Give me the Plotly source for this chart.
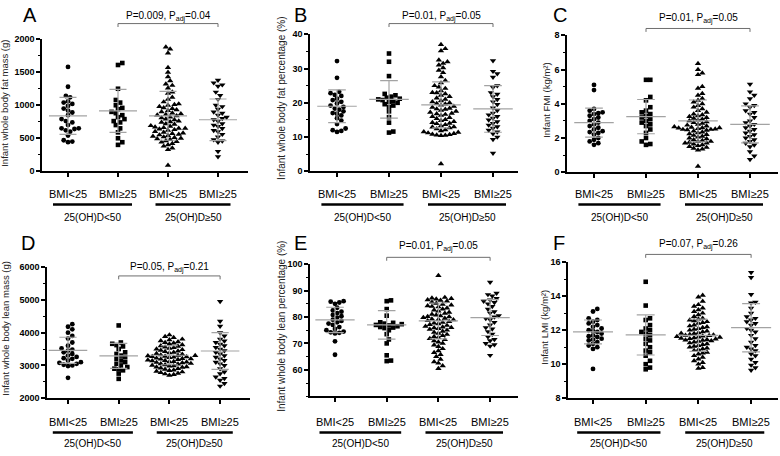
import plotly.graph_objects as go

W, H = 780, 456

CATS = ["BMI<25", "BMI≥25", "BMI<25", "BMI≥25"]
GROUPS = ["25(OH)D<50", "25(OH)D≥50"]
SYMBOLS = ["circle", "square", "triangle-up", "triangle-down"]
SIZES = [4.8, 4.6, 5.6, 5.6]

# Panel A: infant whole body fat mass (g)
A1 = [1580, 1280, 1140, 1120, 1060, 1040, 1020, 990, 950, 920, 890, 850, 790, 760, 740, 700, 650, 650, 640, 620, 600, 540, 470, 450, 440]
A2 = [1640, 1610, 1250, 1080, 1040, 1000, 960, 940, 900, 880, 850, 820, 790, 760, 740, 700, 650, 590, 500, 440, 400]
A3 = [1880, 1850, 1790, 1570, 1500, 1430, 1370, 1320, 1300, 1260, 1200, 1180, 1120, 1090, 1050, 1020, 1010, 1000, 980, 960,
      950, 930, 920, 900, 880, 870, 860, 850, 840, 820, 810, 790, 780, 760, 750, 740, 720, 710, 690, 680, 670, 660, 650, 650,
      640, 630, 620, 600, 590, 580, 570, 560, 550, 540, 530, 520, 510, 500, 490, 480, 460, 450, 440, 420, 400, 380, 350, 330, 90]
A4 = [1380, 1340, 1310, 1290, 1200, 1150, 1090, 1000, 980, 940, 900, 880, 850, 820, 800, 780, 760, 720, 700, 680, 650, 620,
      600, 560, 520, 480, 460, 440, 300, 220]
A_MEAN = [840, 915, 840, 780]
A_SD = [280, 325, 370, 315]

# Panel B: infant whole body fat percentage (%)
B1 = [32.2, 27.3, 23.2, 22.8, 22.3, 22.0, 21.2, 20.8, 20.3, 19.8, 19.2, 18.8, 18.3, 18.0, 17.5, 17.0, 16.8, 16.3, 15.5, 14.8, 13.8, 12.5, 12.0, 11.8, 11.5]
B2 = [34.4, 32.0, 27.8, 22.6, 22.2, 21.8, 21.5, 21.2, 21.0, 20.8, 20.5, 20.3, 20.0, 19.6, 19.2, 18.8, 17.5, 15.8, 14.2, 11.6, 11.3]
B3 = [37.0, 35.8, 35.2, 32.5, 32.0, 31.5, 31.0, 30.2, 29.5, 28.8, 27.6, 26.5, 25.8, 25.0, 24.2, 23.5, 23.0, 22.6, 22.2, 21.8,
      21.4, 21.0, 20.6, 20.3, 20.0, 19.6, 19.3, 19.0, 18.7, 18.4, 18.1, 17.8, 17.5, 17.2, 16.9, 16.6, 16.3, 16.0, 15.7, 15.4,
      15.1, 14.8, 14.5, 14.2, 13.9, 13.6, 13.3, 13.0, 12.7, 12.4, 12.1, 11.8, 11.5, 11.2, 11.0, 10.8, 10.6, 10.5, 10.4, 10.7,
      11.4, 12.9, 14.0, 16.8, 18.2, 19.8, 22.9, 24.6, 2.2]
B4 = [32.3, 29.2, 28.5, 27.5, 25.0, 24.5, 23.0, 22.5, 21.8, 21.0, 20.3, 19.5, 18.5, 17.8, 17.0, 16.5, 16.0, 15.5, 15.0, 14.5,
      14.0, 13.5, 13.0, 12.6, 12.0, 11.5, 11.0, 10.0, 9.3, 5.3]
B_MEAN = [19.0, 21.0, 19.4, 18.2]
B_SD = [4.8, 5.5, 6.7, 6.8]

# Panel C: infant FMI (kg/m2)
C1 = [5.1, 4.8, 3.7, 3.6, 3.5, 3.45, 3.4, 3.3, 3.2, 3.1, 3.0, 2.9, 2.8, 2.7, 2.6, 2.5, 2.4, 2.35, 2.3, 2.2, 2.0, 1.9, 1.8, 1.7, 1.6]
C2 = [5.4, 5.4, 4.4, 4.2, 3.8, 3.6, 3.5, 3.4, 3.3, 3.2, 3.1, 3.0, 2.9, 2.8, 2.7, 2.5, 2.3, 2.0, 1.8, 1.65, 1.6]
C3 = [6.35, 6.0, 5.8, 5.7, 5.0, 4.9, 4.6, 4.5, 4.3, 4.1, 3.9, 3.8, 3.7, 3.6, 3.5, 3.4, 3.35, 3.3, 3.2, 3.15,
      3.1, 3.0, 2.95, 2.9, 2.85, 2.8, 2.75, 2.7, 2.65, 2.6, 2.6, 2.55, 2.5, 2.5, 2.45, 2.4, 2.35, 2.3, 2.25, 2.2,
      2.15, 2.1, 2.05, 2.0, 1.95, 1.9, 1.85, 1.8, 1.8, 1.75, 1.7, 1.7, 1.65, 1.6, 1.55, 1.5, 1.45, 1.4, 1.35, 1.3,
      2.62, 2.58, 2.52, 2.48, 3.25, 3.05, 4.0, 4.2, 0.35]
C4 = [5.15, 4.7, 4.5, 4.3, 4.0, 3.9, 3.8, 3.6, 3.5, 3.4, 3.2, 3.0, 2.9, 2.8, 2.7, 2.6, 2.5, 2.4, 2.3, 2.2,
      2.1, 2.0, 1.9, 1.8, 1.7, 1.6, 1.5, 1.2, 0.95, 0.75]
C_MEAN = [2.9, 3.25, 3.0, 2.8]
C_SD = [0.85, 1.0, 1.22, 1.08]

# Panel D: infant whole body lean mass (g)
D1 = [4260, 4180, 4100, 4000, 3900, 3820, 3700, 3600, 3520, 3480, 3450, 3400, 3350, 3300, 3260, 3220, 3200, 3150, 3100, 3080,
      3050, 3020, 3000, 2980, 2620]
D2 = [4220, 3700, 3660, 3620, 3580, 3500, 3400, 3350, 3300, 3250, 3200, 3150, 3100, 3050, 3000, 2950, 2900, 2880, 2850, 2750, 2590]
D3 = [3930, 3880, 3850, 3800, 3780, 3750, 3720, 3700, 3680, 3650, 3630, 3600, 3580, 3560, 3540, 3520, 3500, 3480, 3460, 3440,
      3420, 3400, 3380, 3360, 3340, 3320, 3300, 3290, 3280, 3260, 3250, 3240, 3220, 3200, 3190, 3180, 3160, 3150, 3140, 3120,
      3100, 3090, 3080, 3060, 3050, 3040, 3020, 3000, 2990, 2980, 2960, 2950, 2940, 2920, 2900, 2880, 2860, 2840, 2820, 2800,
      2780, 2760, 2740, 2720, 2700, 3310, 3270, 3210, 3110]
D4 = [4950, 4350, 4200, 4000, 3900, 3800, 3750, 3700, 3650, 3600, 3550, 3500, 3450, 3400, 3350, 3300, 3250, 3200, 3150, 3100,
      3050, 3000, 2900, 2800, 2750, 2650, 2600, 2550, 2450, 2370]
D_MEAN = [3460, 3290, 3310, 3440]
D_SD = [400, 380, 290, 560]

# Panel E: infant whole body lean percentage (%)
E1 = [86.0, 85.8, 85.5, 85.0, 83.5, 82.5, 82.0, 81.5, 80.8, 80.3, 79.8, 79.0, 78.5, 78.0, 77.5, 77.0, 76.2, 75.5, 75.0, 74.5,
      74.2, 74.0, 73.8, 70.8, 65.7]
E2 = [86.3, 86.0, 83.0, 80.5, 78.0, 77.8, 77.5, 77.3, 77.0, 76.8, 76.5, 76.2, 76.0, 75.8, 75.0, 73.5, 71.5, 70.0, 65.5, 63.5, 63.3]
E3 = [95.7, 87.4, 87.2, 87.0, 86.8, 86.5, 86.3, 86.0, 85.6, 85.2, 84.8, 84.5, 84.2, 83.8, 83.4, 83.0, 82.6, 82.2, 81.8, 81.4,
      81.0, 80.7, 80.4, 80.1, 79.8, 79.5, 79.2, 78.9, 78.6, 78.3, 78.0, 77.7, 77.4, 77.1, 76.8, 76.5, 76.2, 75.9, 75.6, 75.3,
      75.0, 74.6, 74.2, 73.8, 73.4, 73.0, 72.6, 72.2, 71.8, 71.4, 71.0, 70.5, 70.0, 69.4, 68.8, 68.0, 67.2, 66.5, 65.8, 65.0,
      64.0, 63.0, 62.5, 61.5, 60.5, 80.2, 79.0, 76.0, 84.0]
E4 = [93.2, 89.0, 88.5, 88.0, 87.0, 86.5, 86.0, 85.5, 85.0, 84.0, 83.0, 82.0, 81.5, 80.5, 80.0, 79.5, 79.0, 78.0, 77.0, 76.0,
      75.5, 74.5, 73.5, 72.5, 71.5, 71.0, 70.0, 69.5, 69.0, 65.5]
E_MEAN = [78.9, 77.0, 78.5, 79.8]
E_SD = [4.8, 5.4, 6.8, 6.8]

# Panel F: infant LMI (kg/m2)
F1 = [13.25, 13.1, 12.7, 12.6, 12.5, 12.4, 12.3, 12.2, 12.1, 12.0, 11.95, 11.9, 11.8, 11.7, 11.65, 11.6, 11.5, 11.45, 11.4, 11.3,
      11.2, 11.1, 11.0, 10.9, 9.72]
F2 = [14.85, 13.45, 12.7, 12.6, 12.3, 12.1, 12.0, 11.9, 11.8, 11.7, 11.5, 11.4, 11.2, 11.0, 10.8, 10.7, 10.5, 10.2, 10.0, 9.8, 9.7]
F3 = [14.05, 13.95, 13.7, 13.5, 13.4, 13.3, 13.2, 13.1, 13.0, 12.9, 12.8, 12.7, 12.6, 12.55, 12.5, 12.4, 12.3, 12.25, 12.2, 12.1,
      12.05, 12.0, 11.95, 11.9, 11.85, 11.8, 11.75, 11.7, 11.65, 11.6, 11.55, 11.5, 11.45, 11.4, 11.35, 11.3, 11.25, 11.2, 11.15, 11.1,
      11.05, 11.0, 10.95, 10.9, 10.85, 10.8, 10.7, 10.6, 10.5, 10.4, 10.3, 10.2, 10.1, 10.0, 9.8, 9.75, 11.72, 11.68, 11.62, 11.58,
      11.52, 11.48, 11.42, 11.38, 11.82, 12.15, 12.45, 12.65, 10.65]
F4 = [15.4, 15.1, 14.1, 13.65, 13.6, 13.3, 13.0, 12.8, 12.7, 12.6, 12.5, 12.4, 12.3, 12.1, 12.0, 11.9, 11.7, 11.5, 11.3, 11.1,
      11.0, 10.9, 10.8, 10.6, 10.5, 10.3, 10.1, 9.95, 9.8, 9.65]
F_MEAN = [11.9, 11.72, 11.7, 12.15]
F_SD = [0.7, 1.18, 0.95, 1.42]

P_TEXTS = ["P=0.009, P<sub>adj</sub>=0.04", "P=0.01, P<sub>adj</sub>=0.05", "P=0.01, P<sub>adj</sub>=0.05",
           "P=0.05, P<sub>adj</sub>=0.21", "P=0.01, P<sub>adj</sub>=0.05", "P=0.07, P<sub>adj</sub>=0.26"]
Y_TITLES = ["Infant whole body fat mass (g)", "Infant whole body fat percentage (%)", "Infant FMI (kg/m²)",
            "Infant whole body lean mass (g)", "Infant whole body lean percentage (%)", "Infant LMI (kg/m²)"]
LETTERS = ["A", "B", "C", "D", "E", "F"]

# layout geometry in pixels
PANELS = [
    dict(data=[A1, A2, A3, A4], mean=A_MEAN, sd=A_SD, left=42, right=248, g0=68, sp=50, top=35, bot=170,
         yr=[0, 2000], tv=[0, 500, 1000, 1500, 2000], minor=250, tx=5, ty=101, tfs=9.5, pty=12, ply=19, lx=30, ly=10,
         caty=193, bary=204, grpy=217),
    dict(data=[B1, B2, B3, B4], mean=B_MEAN, sd=B_SD, left=310, right=518, g0=337, sp=52, top=30, bot=170,
         yr=[0, 40], tv=[0, 10, 20, 30, 40], minor=5, tx=282, ty=96, tfs=10, pty=12, ply=19, lx=300, ly=10,
         caty=193, bary=204, grpy=217),
    dict(data=[C1, C2, C3, C4], mean=C_MEAN, sd=C_SD, left=567, right=778, g0=594, sp=52, top=31, bot=171,
         yr=[0, 8], tv=[0, 2, 4, 6, 8], minor=1, tx=547, ty=98, tfs=9.5, pty=14, ply=24, lx=560, ly=10,
         caty=193, bary=204, grpy=217),
    dict(data=[D1, D2, D3, D4], mean=D_MEAN, sd=D_SD, left=47, right=250, g0=68, sp=50.7, top=268, bot=402,
         yr=[2000, 6000], tv=[2000, 3000, 4000, 5000, 6000], minor=500, tx=6, ty=331, tfs=9.5, pty=268, ply=277,
         lx=28, ly=243, caty=426, bary=437, grpy=448),
    dict(data=[E1, E2, E3, E4], mean=E_MEAN, sd=E_SD, left=310, right=518, g0=335, sp=51.7, top=265, bot=400,
         yr=[50, 100], tv=[60, 70, 80, 90, 100], minor=5, tx=282, ty=329, tfs=10, pty=247, ply=258, lx=300, ly=243,
         caty=426, bary=437, grpy=448),
    dict(data=[F1, F2, F3, F4], mean=F_MEAN, sd=F_SD, left=568, right=778, g0=593, sp=52.7, top=263, bot=402,
         yr=[8, 16], tv=[8, 10, 12, 14, 16], minor=1, tx=545, ty=330, tfs=9.5, pty=245, ply=255, lx=559, ly=243,
         caty=426, bary=437, grpy=448),
]

FONT = "Liberation Sans"
GRAY = "#a3a3a3"


def px_x(p):
    return p / W


def px_y(p):
    return 1 - p / H


def swarm(vals, ppy, diam=4.3, step=2.15):
    idx = sorted(range(len(vals)), key=lambda i: vals[i])
    placed = []
    off = [0.0] * len(vals)
    for i in idx:
        y = vals[i] * ppy
        k = 0
        found = None
        while found is None:
            cands = [0.0] if k == 0 else [k * step, -k * step]
            for c in cands:
                if all((c - px) ** 2 + (y - py) ** 2 >= diam * diam for (px, py) in placed):
                    found = c
                    break
            k += 1
        placed.append((found, y))
        off[i] = found
    return off


fig = go.Figure()
annotations = []
shapes = []

for pi, P in enumerate(PANELS):
    n = pi + 1
    xa = "x" if n == 1 else f"x{n}"
    ya = "y" if n == 1 else f"y{n}"
    sp = P["sp"]
    ppy = (P["bot"] - P["top"]) / (P["yr"][1] - P["yr"][0])
    xr = [(P["left"] - P["g0"]) / sp, (P["right"] - P["g0"]) / sp]

    for g, vals in enumerate(P["data"]):
        off = swarm(vals, ppy)
        xs = [g + o / sp for o in off]
        fig.add_trace(go.Scatter(x=xs, y=vals, mode="markers", xaxis=xa, yaxis=ya, showlegend=False,
                                 marker=dict(symbol=SYMBOLS[g], size=SIZES[g], color="black", line=dict(width=0)),
                                 cliponaxis=False))
    # mean and SD lines
    lx, ly = [], []
    for g in range(4):
        m, s = P["mean"][g], P["sd"][g]
        lx += [g - 0.38, g + 0.38, None, g - 0.17, g + 0.17, None, g - 0.17, g + 0.17, None, g, g, None]
        ly += [m, m, None, m + s, m + s, None, m - s, m - s, None, m - s, m + s, None]
    fig.add_trace(go.Scatter(x=lx, y=ly, mode="lines", xaxis=xa, yaxis=ya, showlegend=False,
                             line=dict(color=GRAY, width=1.2), cliponaxis=False))

    xkey = "xaxis" if n == 1 else f"xaxis{n}"
    ykey = "yaxis" if n == 1 else f"yaxis{n}"
    fig.layout[xkey] = dict(domain=[px_x(P["left"]), px_x(P["right"])], range=xr, anchor=ya,
                            showline=True, linecolor="black", linewidth=1.5, showgrid=False, zeroline=False,
                            tickmode="array", tickvals=[0, 1, 2, 3], showticklabels=False,
                            ticks="outside", ticklen=4, tickwidth=1.5, tickcolor="black", fixedrange=True)
    fig.layout[ykey] = dict(domain=[px_y(P["bot"]), px_y(P["top"])], range=P["yr"], anchor=xa,
                            showline=True, linecolor="black", linewidth=1.5, showgrid=False, zeroline=False,
                            tickmode="array", tickvals=P["tv"], ticks="outside", ticklen=4, tickwidth=1.5,
                            tickcolor="black",
                            tickfont=dict(family=FONT, size=9, color="black", weight="bold"),
                            minor=dict(tickmode="linear", tick0=P["yr"][0], dtick=P["minor"], ticks="outside",
                                       ticklen=2.5, tickwidth=1, tickcolor="black", showgrid=False),
                            fixedrange=True)

    # category labels
    for g in range(4):
        annotations.append(dict(x=g, y=px_y(P["caty"]), xref=xa, yref="paper", text=CATS[g], showarrow=False,
                                xanchor="center", yanchor="middle",
                                font=dict(family=FONT, size=11, color="black")))
    # group bars and labels
    for (x0, x1), lab in zip([(-0.3, 1.28), (1.75, 3.25)], GROUPS):
        shapes.append(dict(type="line", xref=xa, yref="paper", x0=x0, x1=x1, y0=px_y(P["bary"]),
                           y1=px_y(P["bary"]), line=dict(color="black", width=2.5)))
        annotations.append(dict(x=(x0 + x1) / 2, y=px_y(P["grpy"]), xref=xa, yref="paper", text=lab,
                                showarrow=False, xanchor="center", yanchor="middle",
                                font=dict(family=FONT, size=10, color="black")))
    # p bracket
    yb = px_y(P["ply"])
    yt = px_y(P["ply"] + 3.5)
    shapes.append(dict(type="path", xref=xa, yref="paper",
                       path=f"M 1,{yt} L 1,{yb} L 3,{yb} L 3,{yt}",
                       line=dict(color="#6e6e6e", width=1)))
    annotations.append(dict(x=2, y=px_y(P["pty"]), xref=xa, yref="paper", text=P_TEXTS[pi], showarrow=False,
                            xanchor="center", yanchor="middle", font=dict(family=FONT, size=10, color="black")))
    # y title
    annotations.append(dict(x=px_x(P["tx"]), y=px_y(P["ty"]), xref="paper", yref="paper", text=Y_TITLES[pi],
                            showarrow=False, textangle=-90, xanchor="center", yanchor="middle",
                            font=dict(family=FONT, size=P["tfs"], color="#222222")))
    # panel letter
    annotations.append(dict(x=px_x(P["lx"]), y=px_y(P["ly"]), xref="paper", yref="paper", text=LETTERS[pi],
                            showarrow=False, xanchor="center", yanchor="middle",
                            font=dict(family=FONT, size=20, color="black")))

fig.update_layout(width=W, height=H, margin=dict(l=0, r=0, t=0, b=0), paper_bgcolor="white",
                  plot_bgcolor="white", annotations=annotations, shapes=shapes, showlegend=False)

fig.write_html("out.html", config={"displayModeBar": False},
               post_script="document.body.style.margin='0';document.body.style.overflow='hidden';")
